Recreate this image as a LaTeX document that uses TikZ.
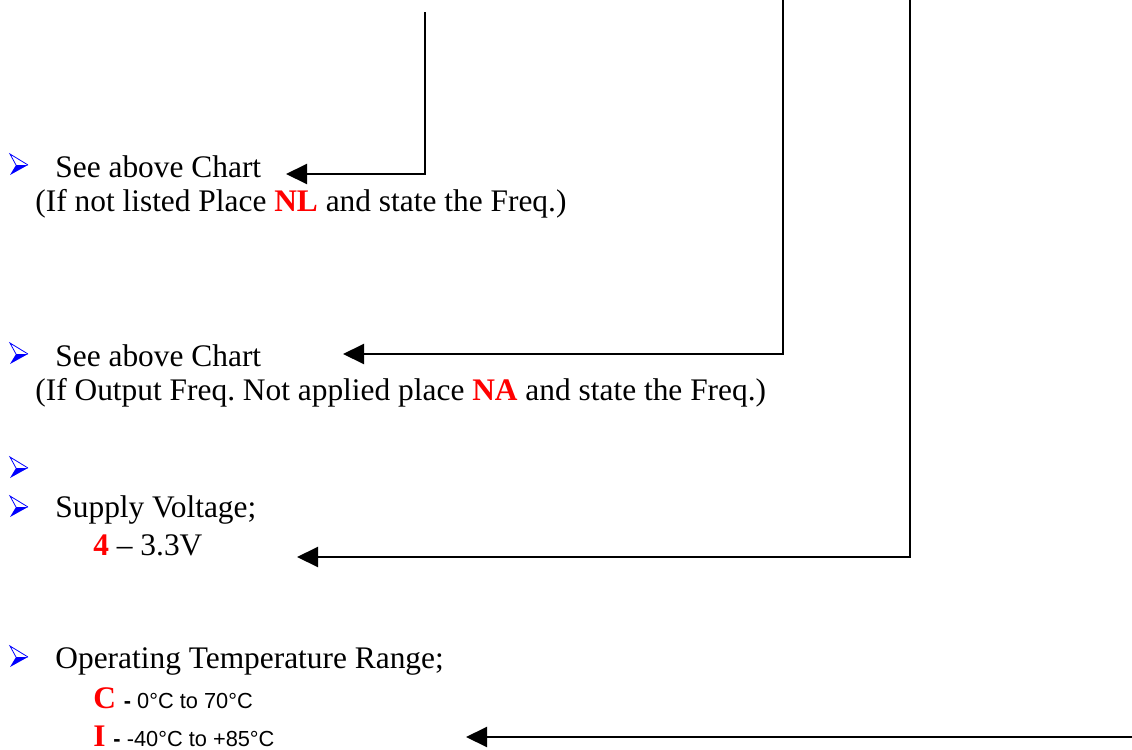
\documentclass[tikz,border=0pt]{standalone}
\usepackage{fontspec}
\setmainfont{Liberation Serif}
\newfontfamily\arialfont{Liberation Sans}
\usetikzlibrary{arrows.meta}
\frenchspacing
\newcommand{\redb}[1]{\textcolor{red}{\textbf{#1}}}
\newcommand{\armal}{\arialfont\fontsize{10.9}{12}\selectfont}
\begin{document}
\begin{tikzpicture}[x=0.5pt,y=-0.5pt,
  txt/.style={anchor=base west,inner sep=0pt,font=\fontsize{15.7}{18}\selectfont},
  conn/.style={line width=1pt,-{Triangle[length=10.5pt,width=10pt]}}]
\useasboundingbox (0,0) rectangle (1132,750);

% Bullets (3D arrowheads)
\foreach \y/\n in {165/1,354/2,468/3,507/4,657/5}{
  \coordinate (b\n) at (19,\y);
  \fill[blue] (16,\y) -- (28,\y) -- (10,\y+10) -- cycle;
  \draw[blue,line width=0.4pt,line join=miter] (16,\y) -- (10,\y-11) -- (28,\y);
}

% Entries
\node[txt] (chart1) at (55,177) {See above Chart};
\node[txt] (note1) at (35,211) {(If not listed Place \redb{NL} and state the Freq.)};
\node[txt] (chart2) at (55,366) {See above Chart};
\node[txt] (note2) at (35,400) {(If Output Freq. Not applied place \redb{NA} and state the Freq.)};
\node[txt] (volt) at (55,517) {Supply Voltage;};
\node[txt] (volt4) at (93,555) {\redb{4} -- 3.3V};
\node[txt] (temp) at (55,668) {Operating Temperature Range;};
\node[txt] (tempc) at (93,708) {\redb{C} {\armal\textbf{-} 0°C to 70°C}};
\node[txt] (tempi) at (93,746) {\redb{I} {\armal\textbf{-} -40°C to +85°C}};

% Connectors
\coordinate (top1) at (425,12);
\coordinate (tip1) at (286,174);
\coordinate (top2) at (783,0);
\coordinate (tip2) at (343,354);
\coordinate (top3) at (910,0);
\coordinate (tip3) at (297,557);
\coordinate (start4) at (1132,737);
\coordinate (tip4) at (466,737);
\draw[conn] (top1) |- (tip1);
\draw[conn] (top2) |- (tip2);
\draw[conn] (top3) |- (tip3);
\draw[conn] (start4) -- (tip4);
\end{tikzpicture}
\end{document}
